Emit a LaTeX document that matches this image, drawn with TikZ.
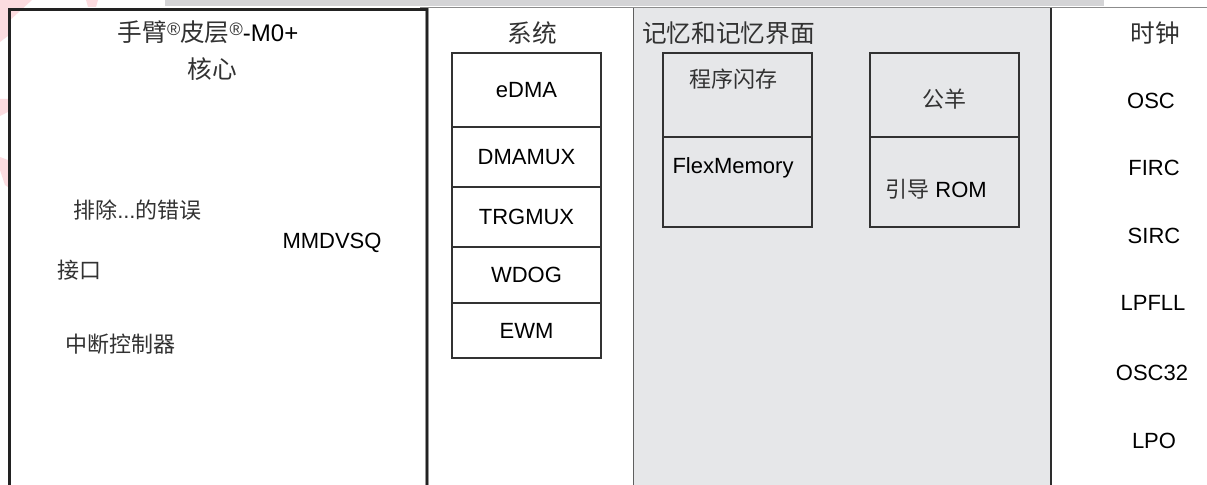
\documentclass[tikz,border=0pt]{standalone}
\usepackage{fontspec}
\setmainfont{Liberation Sans}
\newfontfamily\cjk{Noto Sans CJK SC}
\definecolor{memfill}{RGB}{230,231,233}
\definecolor{barfill}{RGB}{212,212,214}
\definecolor{pinkwm}{RGB}{252,220,224}
\definecolor{boxc}{RGB}{50,50,50}
\definecolor{cjkc}{RGB}{50,50,50}
\newcommand{\regmark}{{\fontsize{13.5}{13.5}\selectfont\rmfamily\raisebox{4pt}{®}}}
\begin{document}
\begin{tikzpicture}[x=0.75pt,y=-0.75pt,
  lat/.style={inner sep=0pt, font=\fontsize{16.5}{18}\selectfont},
  cj/.style={inner sep=0pt, text=cjkc, font=\fontsize{16.5}{18}\selectfont\cjk},
  ttl/.style={inner sep=0pt, text=cjkc, font=\fontsize{18.5}{20}\selectfont\cjk},
  sysbox/.style={draw=boxc, line width=1pt, minimum width={149*0.75pt}, inner sep=0pt, font=\fontsize{16.5}{18}\selectfont},
  membox/.style={draw=boxc, line width=1pt, minimum width={149*0.75pt}, inner sep=0pt},
  sepline/.style={line width=0.8pt}]
\useasboundingbox (0,0) rectangle (1207,485);
\clip (0,0) rectangle (1207,485);
\fill[white] (0,0) rectangle (1207,485);
% faint watermark
\fill[pinkwm] (0,0) -- (32,0) -- (8,22) -- (8,36) -- (0,42) -- cycle;
\fill[pinkwm] (86,0) -- (98,0) -- (96,7) -- (88,7) -- cycle;
\fill[pinkwm] (0,99) -- (8,99) -- (8,112) -- (0,116) -- cycle;
\fill[pinkwm] (0,157) -- (8,160) -- (8,187) -- (5,185) -- (0,170) -- cycle;
% top bar and line
\fill[barfill] (165,0) rectangle (1104,6.5);
\draw[line width=0.8pt, color={rgb,255:red,140;green,140;blue,140}] (420,7.3) -- (1207,7.3);
% memory column
\fill[memfill] (633.5,7.8) rectangle (1051,485);
\draw[sepline, color={rgb,255:red,95;green,95;blue,95}] (633.5,7.8) -- (633.5,485);
\draw[line width=1pt, color={rgb,255:red,45;green,45;blue,45}] (1051,7.8) -- (1051,485);
% core box
\draw[line width=2.7pt, color={rgb,255:red,150;green,150;blue,150}] (9.5,495) -- (9.5,9.5) -- (427,9.5) -- (427,495);
\draw[line width=2.2pt, color={rgb,255:red,34;green,34;blue,34}] (9.5,495) -- (9.5,9.5) -- (427,9.5) -- (427,495);
% core texts
\node[ttl] (coretitle) at (208,32) {手臂\regmark 皮层\regmark{\fontsize{18}{20}\selectfont\rmfamily\color{black} -M0+}};
\node[ttl] (corekern) at (212,69) {核心};
\node[cj, anchor=west] (debug) at (73,210) {排除{\rmfamily ...}的错误};
\node[lat] (mmdvsq) at (332,243) {MMDVSQ};
\node[cj, anchor=west] (iface) at (57,270) {接口};
\node[cj, anchor=west] (nvic) at (65,344) {中断控制器};
% system column
\node[ttl] (systitle) at (532,33) {系统};
\node[sysbox, minimum height={74*0.75pt}] (edma) at (526.5,90) {eDMA};
\node[sysbox, minimum height={60*0.75pt}] (dmamux) at (526.5,157) {DMAMUX};
\node[sysbox, minimum height={60*0.75pt}] (trgmux) at (526.5,217) {TRGMUX};
\node[sysbox, minimum height={56*0.75pt}] (wdog) at (526.5,275) {WDOG};
\node[sysbox, minimum height={55*0.75pt}] (ewm) at (526.5,330.5) {EWM};
% memory column
\node[ttl, anchor=west] (memtitle) at (642,33) {记忆和记忆界面};
\node[membox, minimum height={84*0.75pt}] (flashbox) at (737.5,95) {};
\node[membox, minimum height={90*0.75pt}] (flexbox) at (737.5,182) {};
\node[cj] (flashlbl) at (733,79) {程序闪存};
\node[lat] (flexlbl) at (733,168) {FlexMemory};
\node[membox, minimum height={84*0.75pt}] (rambox) at (944.5,95) {};
\node[membox, minimum height={90*0.75pt}] (rombox) at (944.5,182) {};
\node[cj] (ramlbl) at (944,99) {公羊};
\node[lat] (romlbl) at (936,189) {{\cjk\color{cjkc}引导} ROM};
% clock column
\node[ttl] (clktitle) at (1155,33) {时钟};
\node[lat] (osc) at (1151,101) {OSC};
\node[lat] (firc) at (1154,168) {FIRC};
\node[lat] (sirc) at (1154,236) {SIRC};
\node[lat] (lpfll) at (1153,303) {LPFLL};
\node[lat] (osc32) at (1152,373) {OSC32};
\node[lat] (lpo) at (1154,441) {LPO};
\end{tikzpicture}
\end{document}
